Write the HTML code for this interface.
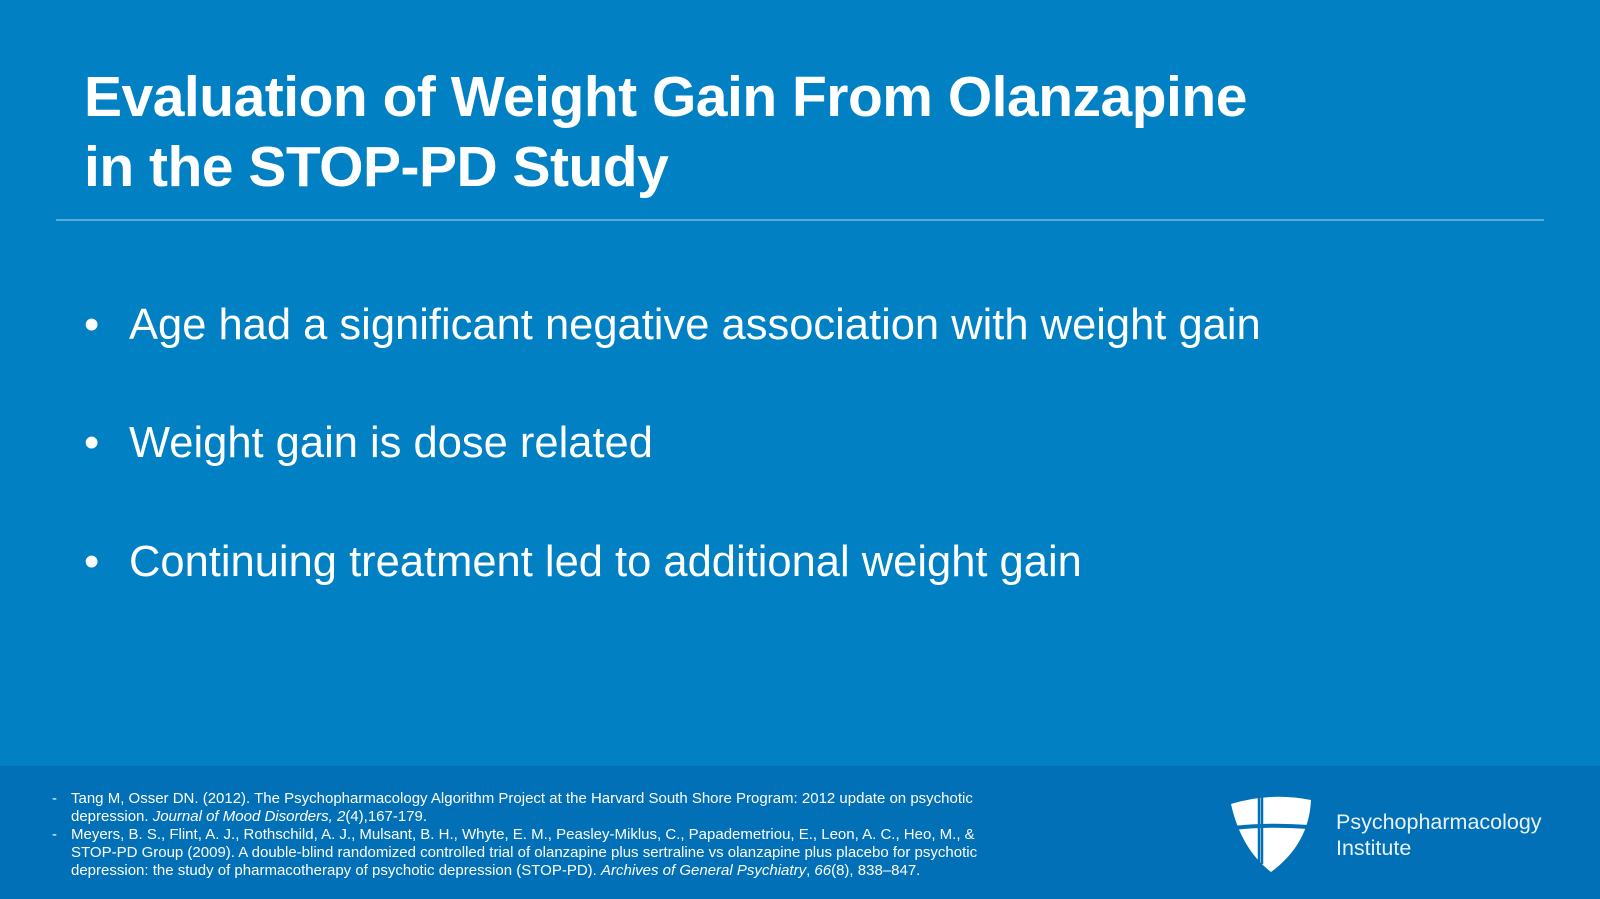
<!DOCTYPE html>
<html><head><meta charset="utf-8"><style>
html,body{margin:0;padding:0}
body{width:1600px;height:899px;position:relative;overflow:hidden;background:#0180C3;font-family:"Liberation Sans",sans-serif;color:#fff}
.title{position:absolute;left:84px;top:62px;font-size:57px;font-weight:bold;line-height:70px;letter-spacing:-0.5px}
.rule{position:absolute;left:56px;top:219px;width:1488px;height:2px;background:#5aa9dc}
.b{position:absolute;left:84px;font-size:43.5px;white-space:nowrap}
.b span.dot{position:absolute;left:0;top:0}
.b span.t{position:absolute;left:45px;top:0}
.footer{position:absolute;left:0;top:766px;width:1600px;height:133px;background:#0270B6}
.ref{position:absolute;left:52px;font-size:15px;line-height:18px;white-space:nowrap}
.ref .d{position:absolute;left:0}
.ref .x{position:absolute;left:19px}
.logo-text{position:absolute;left:1336px;top:809px;font-size:21.5px;line-height:26px;color:#e8f2fa}
</style></head><body>
<div class="title">Evaluation of Weight Gain From Olanzapine<br>in the STOP-PD Study</div>
<div class="rule"></div>
<div class="b" style="top:301px"><span class="dot">•</span><span class="t">Age had a significant negative association with weight gain</span></div>
<div class="b" style="top:419px"><span class="dot">•</span><span class="t">Weight gain is dose related</span></div>
<div class="b" style="top:538px"><span class="dot">•</span><span class="t">Continuing treatment led to additional weight gain</span></div>
<div class="footer"></div>
<div class="ref" style="top:790px"><span class="d">-</span><span class="x">Tang M, Osser DN. (2012). The Psychopharmacology Algorithm Project at the Harvard South Shore Program: 2012 update on psychotic<br>depression. <i>Journal of Mood Disorders, 2</i>(4),167-179.</span></div>
<div class="ref" style="top:826px"><span class="d">-</span><span class="x">Meyers, B. S., Flint, A. J., Rothschild, A. J., Mulsant, B. H., Whyte, E. M., Peasley-Miklus, C., Papademetriou, E., Leon, A. C., Heo, M., &amp;<br>STOP-PD Group (2009). A double-blind randomized controlled trial of olanzapine plus sertraline vs olanzapine plus placebo for psychotic<br>depression: the study of pharmacotherapy of psychotic depression (STOP-PD). <i>Archives of General Psychiatry</i>, <i>66</i>(8), 838–847.</span></div>
<svg style="position:absolute;left:1229px;top:794px" width="84" height="80" viewBox="0 0 84 80">
<path d="M2 10 Q40 -2 82 6 Q80 50 42 78 Q12 55 2 10 Z" fill="#fff"/>
<path d="M30 3 L30 70 M33 3 L33 70" stroke="#0270B6" stroke-width="2.5"/>
<path d="M4 34 Q40 30 80 33" stroke="#0270B6" stroke-width="4" fill="none"/>
</svg>
<div class="logo-text">Psychopharmacology<br>Institute</div>
</body></html>
